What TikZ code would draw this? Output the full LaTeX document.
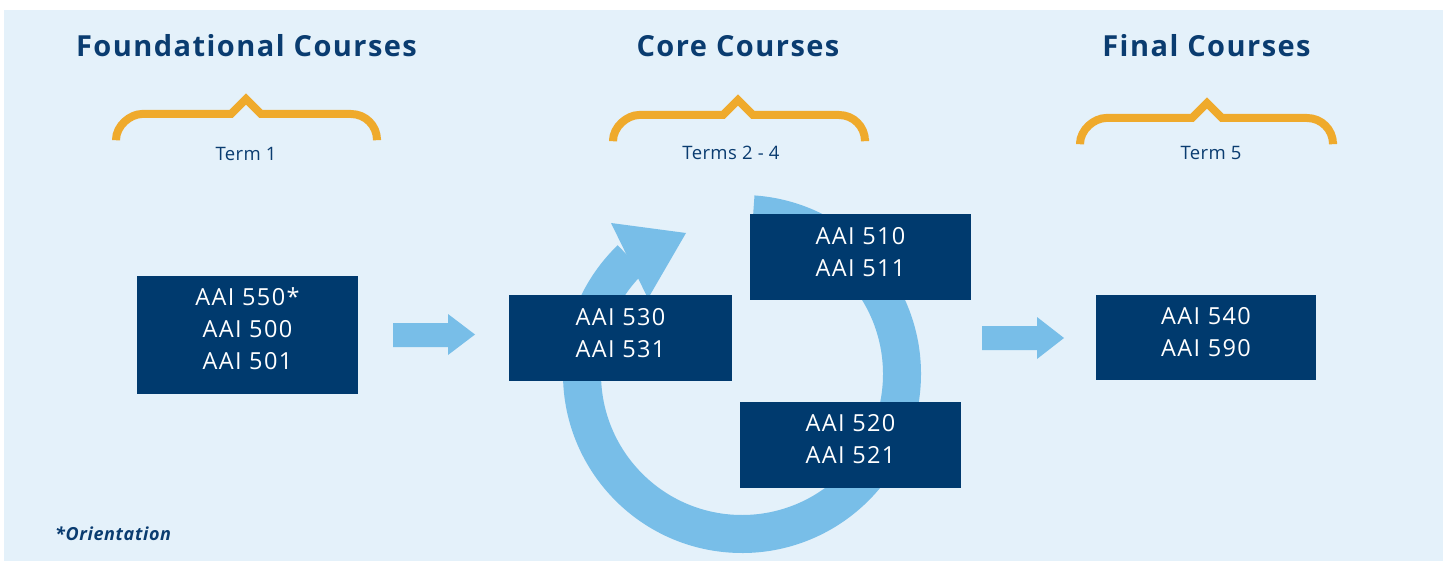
\documentclass[tikz,border=0pt]{standalone}
\usepackage{fontspec}
\setmainfont{Open Sans}
\newfontfamily\titlefont[LetterSpace=5]{Open Sans}
\newfontfamily\boxfont[LetterSpace=6]{Open Sans}
\newfontfamily\termfont[LetterSpace=2]{Open Sans}
\newfontfamily\notefont[LetterSpace=3.5]{Open Sans}
\usetikzlibrary{calc}
\definecolor{bgblue}{RGB}{228,241,250}
\definecolor{ringblue}{RGB}{120,190,232}
\definecolor{navybox}{RGB}{0,58,110}
\definecolor{navytext}{RGB}{10,60,112}
\definecolor{bracegold}{RGB}{239,170,44}
\tikzset{
  coursebox/.style={fill=navybox, draw=none, inner sep=0pt},
  coursetext/.style={text=white, align=center, inner sep=0pt, font={\boxfont\fontsize{23.5}{32}\selectfont}},
  titletext/.style={text=navytext, anchor=base, inner sep=0pt, font={\titlefont\fontsize{29}{34}\selectfont\bfseries}},
  termtext/.style={text=navytext, anchor=base, inner sep=0pt, font={\termfont\fontsize{18.5}{22}\selectfont}},
  notetext/.style={text=navytext, anchor=base west, inner sep=0pt, font={\notefont\fontsize{18}{22}\selectfont\bfseries\itshape}},
  bracestroke/.style={draw=bracegold, line width=8pt, line cap=round, line join=miter},
  flowarrow/.style={fill=ringblue, draw=none},
}
\newcommand{\coursebrace}[5]{% L R P H E
  \draw[bracestroke] (#1,#5) -- (#1,#4+26) .. controls (#1,#4+11.6) and (#1+14.4,#4) .. (#1+26,#4)
    -- (#3-15,#4) -- (#3,#4-15) -- (#3+15,#4) -- (#2-26,#4)
    .. controls (#2-11.6,#4) and (#2,#4+11.6) .. (#2,#4+26) -- (#2,#5);
}
\begin{document}
\begin{tikzpicture}[x=1pt,y=-1pt]
\useasboundingbox (0,0) rectangle (1447,561);
\fill[bgblue] (4,10) rectangle (1443,561);

% titles
\node[titletext] (t1) at (246.5,57) {Foundational Courses};
\node[titletext] (t2) at (738,57) {Core Courses};
\node[titletext] (t3) at (1206.5,57) {Final Courses};

% braces
\coursebrace{116}{377}{246}{114}{139}
\coursebrace{613}{865}{738}{115}{139}
\coursebrace{1080}{1333}{1207}{118}{142}

\node[termtext] (m1) at (246,160.5) {Term 1};
\node[termtext] (m2) at (731,160) {Terms 2 - 4};
\node[termtext] (m3) at (1211,160) {Term 5};

% circular arrow
\coordinate (c) at (742,374);
\fill[ringblue] ([shift={(86:179pt)}]c) arc[start angle=86, end angle=-226, radius=179pt]
   -- ([shift={(-226:141pt)}]c) arc[start angle=-226, end angle=86, radius=141pt] -- cycle;
\coordinate (h1) at (611,223);
\coordinate (h2) at (686,233);
\coordinate (h3) at (648,298.5);
\fill[ringblue] (h1) -- (h2) -- (h3) -- cycle;

% straight arrows
\fill[flowarrow] (393,323) -- (448,323) -- (448,314) -- (475,334.5) -- (448,355) -- (448,347) -- (393,347) -- cycle;
\fill[flowarrow] (982,326) -- (1037,326) -- (1037,317) -- (1064,338) -- (1037,359) -- (1037,350) -- (982,350) -- cycle;

% boxes
\node[coursebox, minimum width=221pt, minimum height=118pt] (b1) at (247.5,335) {};
\node[coursetext] (b1t) at ([yshift=6pt]b1.center) {AAI 550*\\AAI 500\\AAI 501};

\node[coursebox, minimum width=223pt, minimum height=86pt] (b2) at (620.5,338) {};
\node[coursetext] (b2t) at ([yshift=5pt]b2.center) {AAI 530\\AAI 531};

\node[coursebox, minimum width=221pt, minimum height=86pt] (b3) at (860.5,257) {};
\node[coursetext] (b3t) at ([yshift=4.5pt]b3.center) {AAI 510\\AAI 511};

\node[coursebox, minimum width=221pt, minimum height=86pt] (b4) at (850.5,445) {};
\node[coursetext] (b4t) at ([yshift=5.5pt]b4.center) {AAI 520\\AAI 521};

\node[coursebox, minimum width=220pt, minimum height=85pt] (b5) at (1206,337.5) {};
\node[coursetext] (b5t) at ([yshift=5pt]b5.center) {AAI 540\\AAI 590};

\node[notetext] (note) at (55,540.5) {*Orientation};
\end{tikzpicture}
\end{document}
